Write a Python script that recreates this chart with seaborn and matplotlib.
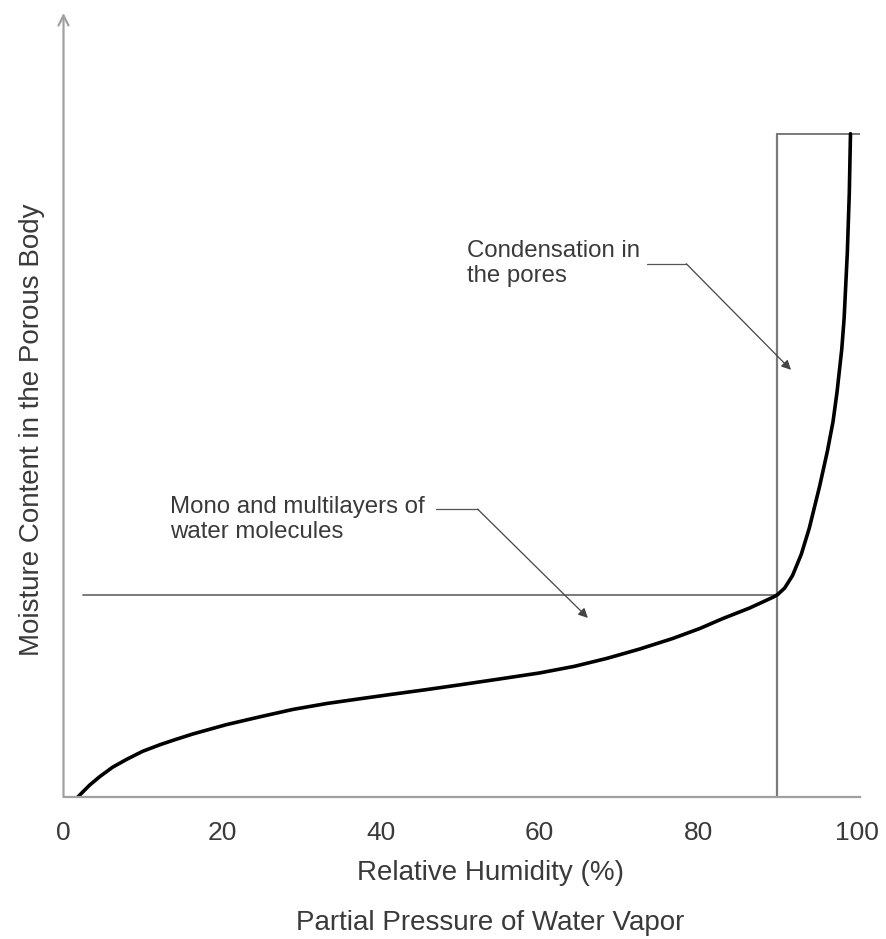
import matplotlib
matplotlib.use("Agg")
from matplotlib import pyplot as plt
import seaborn as sns
import pandas as pd

# hodnoty (osa y je bez jednotek, 100 = horní okraj obdélníku)
rh = [1.8, 3.3, 4.6, 6.2, 8.0, 10.0, 12.2, 14.2, 16.3, 20.5, 24.8, 28.9,
      33.2, 37.3, 41.5, 45.8, 49.9, 55.0, 60.0, 64.4, 68.5, 72.6, 76.8, 80.2,
      83.1, 86.5, 89.4, 90.0, 90.9, 91.9, 93.0, 94.0, 95.3, 96.3, 97.0, 97.5,
      98.1, 98.4, 98.8, 99.05, 99.2]
moisture = [0.0, 1.8, 3.1, 4.5, 5.7, 6.9, 7.9, 8.7, 9.5, 10.9, 12.1, 13.2,
            14.1, 14.8, 15.5, 16.2, 16.9, 17.8, 18.7, 19.7, 20.9, 22.3, 23.9, 25.4,
            26.9, 28.5, 30.1, 30.5, 31.5, 33.4, 36.6, 40.5, 46.8, 52.2, 56.6, 61.0,
            67.5, 72.2, 82.0, 91.0, 100.0]

x_ticks = [0, 20, 40, 60, 80, 100]
rh_condensation = 90
moisture_layers = 30.4
moisture_top = 100

text_color = "#3a3a3a"
line_color = "#7a7a7a"

sns.set_style("white")
plt.rcParams["font.family"] = ["Liberation Sans", "DejaVu Sans"]

df = pd.DataFrame({"rh": rh, "moisture": moisture})

fig = plt.figure(figsize=(8.87, 9.39), dpi=100)
ax = fig.add_axes([63.5 / 887, 142 / 939, (860 - 63.5) / 887, 784 / 939])

# hranice oblastí
ax.plot([2.5, rh_condensation], [moisture_layers, moisture_layers], color=line_color, lw=1.4)
ax.plot([rh_condensation, rh_condensation], [0, moisture_top], color=line_color, lw=1.6)
ax.plot([rh_condensation, 100.4], [moisture_top, moisture_top], color=line_color, lw=1.4)

# samotná izoterma
sns.lineplot(data=df, x="rh", y="moisture", ax=ax, color="black", lw=2.6, sort=False,
             solid_joinstyle="round", solid_capstyle="round")

ax.set_xlim(0, 100.4)
ax.set_ylim(0, 118.2)
ax.set_xticks(x_ticks)
ax.set_yticks([])
ax.set_xlabel("")
ax.set_ylabel("")
ax.tick_params(axis="x", length=0, pad=17, labelsize=19, labelcolor=text_color)

for s in ["top", "right", "left"]:
    ax.spines[s].set_visible(False)
ax.spines["bottom"].set_color("#a0a0a0")
ax.spines["bottom"].set_linewidth(1.6)

# osa y se šipkou
ax.annotate("", xy=(0, 1.0), xytext=(0, 0), xycoords="axes fraction",
            arrowprops=dict(arrowstyle="->", color="#a0a0a0", lw=1.6,
                            mutation_scale=18, shrinkA=0, shrinkB=0))

# popisky
arrow_kw = dict(arrowstyle="-|>", color="#444444", lw=0.9, mutation_scale=14,
                shrinkA=0, shrinkB=0)
ax.text(50.8, 80.4, "Condensation in\nthe pores", fontsize=17.3, color=text_color,
        va="center", ha="left", linespacing=1.15)
ax.plot([73.6, 78.5], [80.4, 80.4], color="#555555", lw=0.9)
ax.annotate("", xy=(91.7, 64.4), xytext=(78.5, 80.4), arrowprops=arrow_kw)

ax.text(13.4, 41.8, "Mono and multilayers of\nwater molecules", fontsize=17.3,
        color=text_color, va="center", ha="left", linespacing=1.15)
ax.plot([47.0, 52.2], [43.4, 43.4], color="#555555", lw=0.9)
ax.annotate("", xy=(66.1, 27.0), xytext=(52.2, 43.4), arrowprops=arrow_kw)

fig.text(491 / 887, 1 - 873 / 939, "Relative Humidity (%)", fontsize=20,
         color=text_color, ha="center", va="center")
fig.text(490 / 887, 1 - 923 / 939, "Partial Pressure of Water Vapor", fontsize=20,
         color=text_color, ha="center", va="center")
fig.text(32 / 887, 1 - 430 / 939, "Moisture Content in the Porous Body", fontsize=20,
         color=text_color, ha="center", va="center", rotation=90)

fig.savefig("out.png", dpi=100)
